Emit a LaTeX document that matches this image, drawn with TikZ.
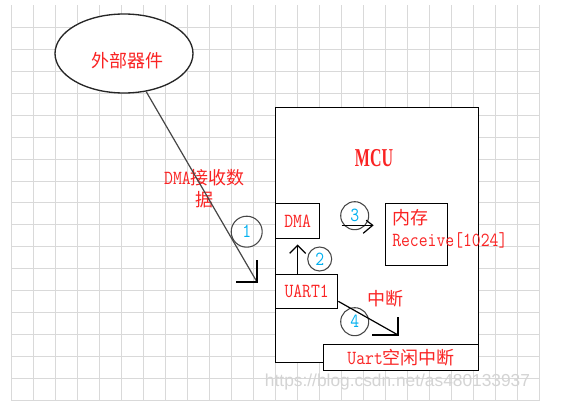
\documentclass[tikz,border=0pt]{standalone}
\usepackage{fontspec}
\usepackage{graphicx}
\setmainfont{Latin Modern Mono}[FakeStretch=0.86]
\newfontfamily\cjk{Noto Sans CJK SC}
\newfontfamily\lat{Latin Modern Mono}[FakeStretch=0.86]
\newfontfamily\mcuf{Liberation Serif}[FakeStretch=0.62]
\newfontfamily\wmfont{Liberation Sans}
\usetikzlibrary{shapes.geometric,calc}
\definecolor{txtred}{RGB}{250,35,35}
\definecolor{numblue}{RGB}{0,176,240}
\definecolor{gridgray}{RGB}{217,217,217}
\definecolor{linegray}{RGB}{70,70,70}
\definecolor{wmgray}{RGB}{212,212,212}
\newcommand\zhx[1]{{\cjk\fontsize{13.5}{16.5}\selectfont #1}}
\newcommand\latx[1]{{\lat\fontsize{15}{16.5}\selectfont #1}}
\begin{document}
\begin{tikzpicture}[x=0.75pt,y=-0.75pt,
  gridline/.style={draw=gridgray, line width=0.75pt},
  box/.style={draw=black, line width=1pt, fill=white, inner sep=0pt, anchor=north west, text=txtred, font=\lat\fontsize{15}{16.5}\selectfont},
  redtxt/.style={text=txtred, inner sep=0pt, font=\fontsize{15}{16.5}\selectfont},
  num/.style={circle, draw=linegray, line width=0.8pt, inner sep=0pt, text=numblue, font=\lat\fontsize{15}{16}\selectfont},
  conn/.style={draw=black, line width=0.9pt},
  diag/.style={draw=linegray, line width=0.9pt}]
\fill[white] (0,0) rectangle (588,410);
\useasboundingbox (0,0) rectangle (588,410);
% grid
\foreach \i in {0,...,24} \draw[gridline] ({11+22*\i},5.5) -- ({11+22*\i},400.5);
\foreach \j in {1,...,18} \draw[gridline] (11,{5.5+21.94*\j}) -- (539,{5.5+21.94*\j});
% watermark
\node[text=wmgray, inner sep=0pt, font=\wmfont\fontsize{13}{14}\selectfont] (wm) at (397.5,382) {https://blog.csdn.net/as480133937};
% external device
\node[ellipse, draw=black!85, line width=1pt, fill=white, minimum width=103.5pt, minimum height=59.25pt, inner sep=0pt] (ext) at (124,53.5) {};
\node[redtxt] (extt) at (127.5,61) {\zhx{外部器件}};
% MCU and inner boxes
\node[box, minimum width=152.25pt, minimum height=191.25pt] (mcu) at (275,107) {};
\node[redtxt, font=\mcuf\bfseries\fontsize{19.3}{22}\selectfont] (mcut) at (374,158) {MCU};
\node[box, minimum width=33pt, minimum height=26.25pt] (dma) at (275,203) {DMA};
\node[box, minimum width=46.5pt, minimum height=25.5pt] (uart) at (275,274) {UART1};
\node[box, minimum width=46.5pt, minimum height=46.5pt] (mem) at (385,203) {};
\node[box, minimum width=116.25pt, minimum height=19.5pt] (idle) at (323,344) {\latx{Uart}\zhx{空闲中断}};
% labels
\node[redtxt, align=left, anchor=west] (memt) at (392,229) {\zhx{内存}\\\latx{Receive[1024]}};
\node[redtxt, align=center] (dmalab) at (204.5,189) {\latx{DMA}\zhx{接收数}\\\zhx{据}};
\node[redtxt] (intt) at (385,299) {\zhx{中断}};
% numbered circles
\node[num, minimum size=23.25pt] (c1) at (246.7,231.7) {1};
\node[num, minimum size=18pt] (c2) at (319.7,259) {2};
\node[num, minimum size=21pt] (c3) at (354.7,215.7) {3};
\node[num, minimum size=21pt] (c4) at (354.7,321.7) {4};
% connector 1
\coordinate (t1) at (257,282);
\draw[diag] (ext) -- (t1);
\draw[conn] ($(t1)+(-21,0)$) -- (t1) -- ($(t1)+(0,-22)$);
% connector 2
\coordinate (t2) at ($(dma.south)+(0,6)$);
\draw[conn] (uart.north -| dma.south) -- (t2);
\draw[conn] ($(t2)+(-8,8)$) -- (t2) -- ($(t2)+(8,8)$);
% connector 3
\coordinate (s3) at (341.5,225.3);
\coordinate (t3) at (372.7,225.3);
\draw[conn] (s3) -- (t3);
\draw[conn] ($(t3)+(-6.5,-5)$) -- (t3) -- ($(t3)+(-9.5,8)$);
% connector 4
\coordinate (s4) at ($(uart.south east)+(0,-8)$);
\coordinate (t4) at (398,335);
\draw[conn] (s4) -- (t4);
\draw[conn] ($(t4)+(-26,0)$) -- (t4) -- ($(t4)+(0,-18)$);
\end{tikzpicture}
\end{document}
